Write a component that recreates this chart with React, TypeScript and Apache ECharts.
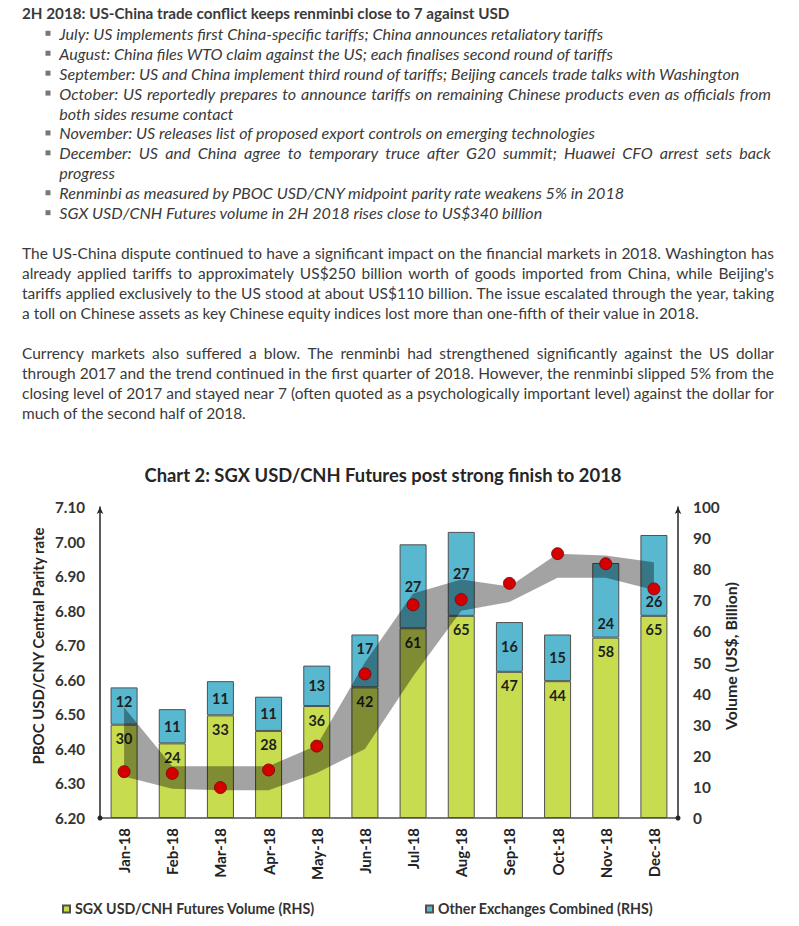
import React, { useEffect, useRef } from "react";
import * as echarts from "echarts";

// ---------- data ----------
const headline = "2H 2018: US-China trade conflict keeps renminbi close to 7 against USD";
const bulletLines: string[][] = [
  ["July: US implements first China-specific tariffs; China announces retaliatory tariffs"],
  ["August: China files WTO claim against the US; each finalises second round of tariffs"],
  ["September: US and China implement third round of tariffs; Beijing cancels trade talks with Washington"],
  [
    "October: US reportedly prepares to announce tariffs on remaining Chinese products even as officials from",
    "both sides resume contact",
  ],
  ["November: US releases list of proposed export controls on emerging technologies"],
  [
    "December: US and China agree to temporary truce after G20 summit; Huawei CFO arrest sets back",
    "progress",
  ],
  ["Renminbi as measured by PBOC USD/CNY midpoint parity rate weakens 5% in 2018"],
  ["SGX USD/CNH Futures volume in 2H 2018 rises close to US$340 billion"],
];
const paragraph1 = [
  "The US-China dispute continued to have a significant impact on the financial markets in 2018. Washington has",
  "already applied tariffs to approximately US$250 billion worth of goods imported from China, while Beijing's",
  "tariffs applied exclusively to the US stood at about US$110 billion. The issue escalated through the year, taking",
  "a toll on Chinese assets as key Chinese equity indices lost more than one-fifth of their value in 2018.",
];
const paragraph2 = [
  "Currency markets also suffered a blow. The renminbi had strengthened significantly against the US dollar",
  "through 2017 and the trend continued in the first quarter of 2018. However, the renminbi slipped 5% from the",
  "closing level of 2017 and stayed near 7 (often quoted as a psychologically important level) against the dollar for",
  "much of the second half of 2018.",
];

const chartTitle = "Chart 2: SGX USD/CNH Futures post strong finish to 2018";
const months = ["Jan-18", "Feb-18", "Mar-18", "Apr-18", "May-18", "Jun-18", "Jul-18", "Aug-18", "Sep-18", "Oct-18", "Nov-18", "Dec-18"];
const sgxVolume = [30, 24, 33, 28, 36, 42, 61, 65, 47, 44, 58, 65];
const otherVolume = [12, 11, 11, 11, 13, 17, 27, 27, 16, 15, 24, 26];
const pbocRate = [6.334, 6.329, 6.288, 6.339, 6.408, 6.617, 6.817, 6.832, 6.879, 6.965, 6.936, 6.863];
const rateBandLow = [6.32, 6.285, 6.28, 6.28, 6.33, 6.4, 6.61, 6.8, 6.825, 6.895, 6.895, 6.86];
const rateBandHigh = [6.52, 6.35, 6.35, 6.35, 6.41, 6.65, 6.85, 6.89, 6.87, 6.965, 6.96, 6.94];
const leftAxisMin = 6.2;
const leftAxisMax = 7.1;
const leftAxisStep = 0.1;
const rightAxisMin = 0;
const rightAxisMax = 100;
const rightAxisStep = 10;
const leftAxisName = "PBOC USD/CNY Central Parity rate";
const rightAxisName = "Volume (US$, Billion)";
const seriesNames = ["SGX USD/CNH Futures Volume (RHS)", "Other Exchanges Combined (RHS)"];

// label placement (style) for the "other exchanges" segment of each month
const otherLabelPlacement = [
  "insideTop", "inside", "inside", "inside", "inside", "insideTop",
  "inside", "inside", "inside", "inside", "insideBottom", "insideBottom",
];

// ---------- helpers ----------
const FONT = "Lato, 'Open Sans', sans-serif";
const TEXT = "#3a3a3a";
let measureCtx: CanvasRenderingContext2D | null = null;
function measure(t: string, size: number, weight = "normal", style = "normal") {
  if (!measureCtx) measureCtx = document.createElement("canvas").getContext("2d");
  measureCtx!.font = `${style} ${weight} ${size}px ${FONT}`;
  return measureCtx!.measureText(t).width;
}
function fit(t: string, w: number, weight = "normal", style = "normal") {
  return (20 * w) / measure(t, 20, weight, style);
}
function textEl(text: string, x: number, y: number, size: number, weight: string, style: string, fill = TEXT) {
  return {
    type: "text",
    x,
    y,
    silent: true,
    style: {
      text,
      fontSize: size,
      fontWeight: weight,
      fontStyle: style,
      fontFamily: FONT,
      fill,
      textAlign: "left",
      textVerticalAlign: "middle",
    },
  };
}
function lineEls(text: string, x: number, y: number, width: number, size: number, weight: string, style: string, justify: boolean) {
  if (!justify) return [textEl(text, x, y, size, weight, style)];
  const words = text.split(" ");
  const ws = words.map((w) => measure(w, size, weight, style));
  const gap = (width - ws.reduce((a, b) => a + b, 0)) / (words.length - 1);
  let cx = x;
  return words.map((w, i) => {
    const el = textEl(w, cx, y, size, weight, style);
    cx += ws[i] + gap;
    return el;
  });
}

function buildOption() {
  const els: any[] = [];
  // headline
  const hSize = fit(headline, 488, "bold");
  els.push(textEl(headline, 22, 13.3, hSize, "bold", "normal"));
  // bullets
  const bSize = fit(bulletLines[0][0], 545, "normal", "italic");
  let li = 0;
  const bStep = 19.93;
  bulletLines.forEach((lines) => {
    lines.forEach((line, j) => {
      const y = 33.3 + li * bStep;
      if (j === 0) {
        els.push({ type: "rect", silent: true, shape: { x: 45.5, y: y - 2.5, width: 5, height: 5 }, style: { fill: "#777777" } });
      }
      els.push(...lineEls(line, 59.3, y, 771 - 59.3, bSize, "normal", "italic", j < lines.length - 1));
      li++;
    });
  });
  // paragraphs
  const pSize = (fit(paragraph1[3], 678) + fit(paragraph2[3], 225)) / 2;
  [paragraph1, paragraph2].forEach((para, pi) => {
    para.forEach((line, j) => {
      const y = 253.3 + pi * 100 + j * 19.9;
      els.push(...lineEls(line, 22, y, 774 - 22, pSize, "normal", "normal", j < para.length - 1));
    });
  });
  // chart title
  const tSize = fit(chartTitle, 477, "bold");
  els.push({
    type: "text",
    x: 383,
    y: 475,
    silent: true,
    style: { text: chartTitle, fontSize: tSize, fontWeight: "bold", fontFamily: FONT, fill: "#262626", textAlign: "center", textVerticalAlign: "middle" },
  });
  // axis names
  const lnSize = fit(leftAxisName, 238, "bold");
  els.push({
    type: "text",
    x: 38.3,
    y: 646,
    rotation: Math.PI / 2,
    silent: true,
    style: { text: leftAxisName, fontSize: lnSize, fontWeight: "bold", fontFamily: FONT, fill: "#262626", textAlign: "center", textVerticalAlign: "middle" },
  });
  const rnSize = fit(rightAxisName, 148, "bold");
  els.push({
    type: "text",
    x: 730.5,
    y: 656,
    rotation: Math.PI / 2,
    silent: true,
    style: { text: rightAxisName, fontSize: rnSize, fontWeight: "bold", fontFamily: FONT, fill: "#262626", textAlign: "center", textVerticalAlign: "middle" },
  });

  const xSize = fit("Jan-18", 45, "bold");
  const lySize = fit("7.10", 30, "bold");
  const rySize = fit("100", 26.7, "bold");
  const barLabelSize = fit("30", 16.7, "bold");
  const legendSize = fit(seriesNames[0], 240, "bold");

  const axisLine = {
    show: true,
    symbol: ["circle", "arrow"],
    symbolSize: [5, 7],
    lineStyle: { color: "#262626", width: 1.5 },
  };

  const bandRange = rateBandHigh.map((h, i) => +(h - rateBandLow[i]).toFixed(4));

  const barLabel = { show: true, fontWeight: "bold", fontSize: barLabelSize, color: "#1f1f1f", fontFamily: FONT };
  const otherData = otherVolume.map((v, i) => ({
    value: v,
    label: { position: otherLabelPlacement[i], distance: 7 },
  }));

  return {
    animation: false,
    backgroundColor: "#ffffff",
    textStyle: { fontFamily: FONT },
    grid: { left: 100, right: 121, top: 507, bottom: 108, containLabel: false },
    legend: [
      {
        data: [seriesNames[0]],
        left: 62,
        top: 910 - legendSize / 2 - 1,
        padding: 0,
        itemWidth: 7,
        itemHeight: 7,
        icon: "rect",
        selectedMode: false,
        textStyle: { fontFamily: FONT, fontWeight: "bold", fontSize: legendSize, color: "#333" },
      },
      {
        data: [seriesNames[1]],
        left: 425,
        top: 910 - legendSize / 2 - 1,
        padding: 0,
        itemWidth: 7,
        itemHeight: 7,
        icon: "rect",
        selectedMode: false,
        textStyle: { fontFamily: FONT, fontWeight: "bold", fontSize: legendSize, color: "#333" },
      },
    ],
    xAxis: {
      type: "category",
      data: months,
      boundaryGap: true,
      axisLine: { show: true, lineStyle: { color: "#4d4d4d", width: 1.5 } },
      axisTick: { show: false },
      axisLabel: { rotate: 90, interval: 0, margin: 10, fontWeight: "bold", fontSize: xSize, color: "#222", fontFamily: FONT },
    },
    yAxis: [
      {
        type: "value",
        position: "left",
        min: leftAxisMin,
        max: leftAxisMax,
        interval: leftAxisStep,
        axisLine,
        axisTick: { show: false },
        splitLine: { show: false },
        axisLabel: {
          margin: 15,
          fontWeight: "bold",
          fontSize: lySize,
          color: "#333",
          fontFamily: FONT,
          formatter: (v: number) => v.toFixed(2),
        },
      },
      {
        type: "value",
        position: "right",
        min: rightAxisMin,
        max: rightAxisMax,
        interval: rightAxisStep,
        axisLine,
        axisTick: { show: false },
        splitLine: { show: false },
        axisLabel: { margin: 15, fontWeight: "bold", fontSize: rySize, color: "#333", fontFamily: FONT },
      },
    ],
    series: [
      {
        name: seriesNames[0],
        type: "bar",
        stack: "vol",
        yAxisIndex: 1,
        barWidth: 27,
        data: sgxVolume,
        z: 2,
        itemStyle: { color: "#c8dc50", borderColor: "#505050", borderWidth: 1 },
        label: { ...barLabel, position: "insideTop", distance: 7 },
      },
      {
        name: seriesNames[1],
        type: "bar",
        stack: "vol",
        yAxisIndex: 1,
        barWidth: 27,
        data: otherData,
        z: 2,
        itemStyle: { color: "#58b8d0", borderColor: "#505050", borderWidth: 1 },
        label: { ...barLabel, position: "inside" },
      },
      {
        name: "band-low",
        type: "line",
        stack: "band",
        yAxisIndex: 0,
        data: rateBandLow,
        symbol: "none",
        silent: true,
        z: 3,
        lineStyle: { width: 0, opacity: 0 },
      },
      {
        name: "band-range",
        type: "line",
        stack: "band",
        yAxisIndex: 0,
        data: bandRange,
        symbol: "none",
        silent: true,
        z: 3,
        lineStyle: { width: 0, opacity: 0 },
        areaStyle: { color: "rgba(0,0,0,0.36)", opacity: 1 },
      },
      {
        name: "PBOC rate",
        type: "scatter",
        yAxisIndex: 0,
        data: pbocRate,
        symbolSize: 12,
        z: 4,
        itemStyle: { color: "#d40000", borderColor: "#7a0000", borderWidth: 0.8, opacity: 1 },
      },
    ],
    graphic: { elements: els },
  };
}

export default function App() {
  const ref = useRef<HTMLDivElement>(null);
  useEffect(() => {
    const chart = echarts.init(ref.current!, undefined, { renderer: "svg" });
    chart.setOption(buildOption() as any);
    return () => chart.dispose();
  }, []);
  return (
    <div
      ref={ref}
      style={{ position: "absolute", left: 0, top: 0, width: 799, height: 926, background: "#ffffff" }}
    />
  );
}
